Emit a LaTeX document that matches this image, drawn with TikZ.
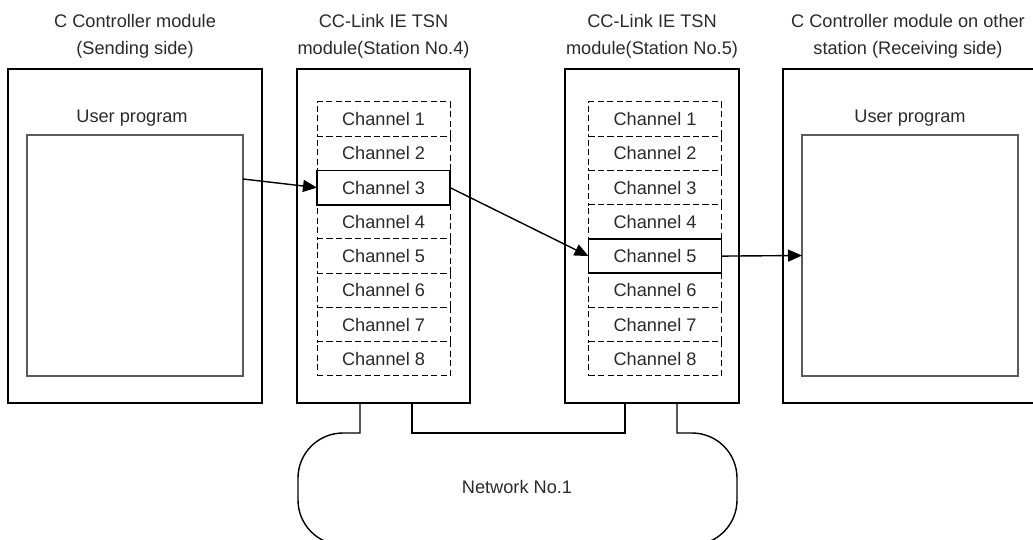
\documentclass[tikz,border=0pt]{standalone}
\usepackage{fontspec}
\setmainfont{Liberation Sans}
\usetikzlibrary{arrows.meta}
\definecolor{txt}{HTML}{2B2B2B}
\definecolor{inner}{HTML}{5A5A5A}
\tikzset{
  every node/.style={font=\fontsize{18.2}{27}\selectfont, text=txt},
  outerbox/.style={draw=black, line width=1.5pt, inner sep=0pt, outer sep=0pt},
  progbox/.style={draw=inner, line width=1.2pt, inner sep=0pt, outer sep=0pt},
  chbox/.style={draw=black, line width=1pt, dash pattern=on 6pt off 3.5pt, minimum width=133pt, minimum height=34.25pt, inner sep=0pt, outer sep=0pt},
  chsel/.style={draw=black, line width=1.6pt, fill=white, minimum width=133pt, minimum height=34.25pt, inner sep=0pt, outer sep=0pt},
  lbl/.style={align=center, inner sep=0pt},
  arr/.style={line width=1.4pt, -{Triangle[length=14pt,width=12pt]}},
  netline/.style={line width=1.4pt}
}
\begin{document}
\begin{tikzpicture}[x=1pt,y=1pt]
\clip (0,0) rectangle (1033,-540);
\fill[white] (0,0) rectangle (1033,-540);

% titles
\node[lbl] (t1) at (135,-36.5) {C Controller module\\(Sending side)};
\node[lbl] (t2) at (383.5,-36.5) {CC-Link IE TSN\\module(Station No.4)};
\node[lbl] (t3) at (652,-36.5) {CC-Link IE TSN\\module(Station No.5)};
\node[lbl] (t4) at (908,-36.5) {C Controller module on other\\station (Receiving side)};

% outer boxes
\node[outerbox, minimum width=254pt, minimum height=334pt] (cL) at (135,-236) {};
\node[outerbox, minimum width=173pt, minimum height=334pt] (m4) at (383.5,-236) {};
\node[outerbox, minimum width=174pt, minimum height=334pt] (m5) at (652,-236) {};
\node[outerbox, minimum width=257pt, minimum height=334pt] (cR) at (911.5,-236) {};

% user programs
\node[lbl] (upL) at (132,-118) {User program};
\node[lbl] (upR) at (910,-118) {User program};
\node[progbox, minimum width=216pt, minimum height=241pt] (uL) at (135,-255.5) {};
\node[progbox, minimum width=216pt, minimum height=241pt] (uR) at (910,-255.5) {};

% channels station 4
\foreach \i in {1,...,8}{
  \node[chbox] (a\i) at (383.5,{-119.1-34.25*(\i-1)}) {Channel \i};
}
% channels station 5
\foreach \i in {1,...,8}{
  \node[chbox] (b\i) at (655,{-119.1-34.25*(\i-1)}) {Channel \i};
}
\node[chsel] (a3s) at (a3) {Channel 3};
\node[chsel] (b5s) at (b5) {Channel 5};

% arrows
\draw[arr] ([yshift=-44pt]uL.north east) -- (a3s.west);
\draw[arr] (a3s.east) -- (b5s.west);
\draw[arr] (b5s.east) -- (uR.west);

% network
\node (net) at (517,-487) {Network No.1};
\coordinate (p1) at (360,-403);
\coordinate (p2) at (412,-403);
\coordinate (p3) at (625,-403);
\coordinate (p4) at (677,-403);
\draw[netline] (p1) -- (360,-433) -- (343,-433) arc(90:180:45) -- (298,-500)
  arc(180:270:45) -- (692,-545) arc(270:360:45) -- (737,-478)
  arc(0:90:45) -- (677,-433) -- (p4);
\draw[netline] (p2) -- (412,-433) -- (625,-433) -- (p3);
\end{tikzpicture}
\end{document}
